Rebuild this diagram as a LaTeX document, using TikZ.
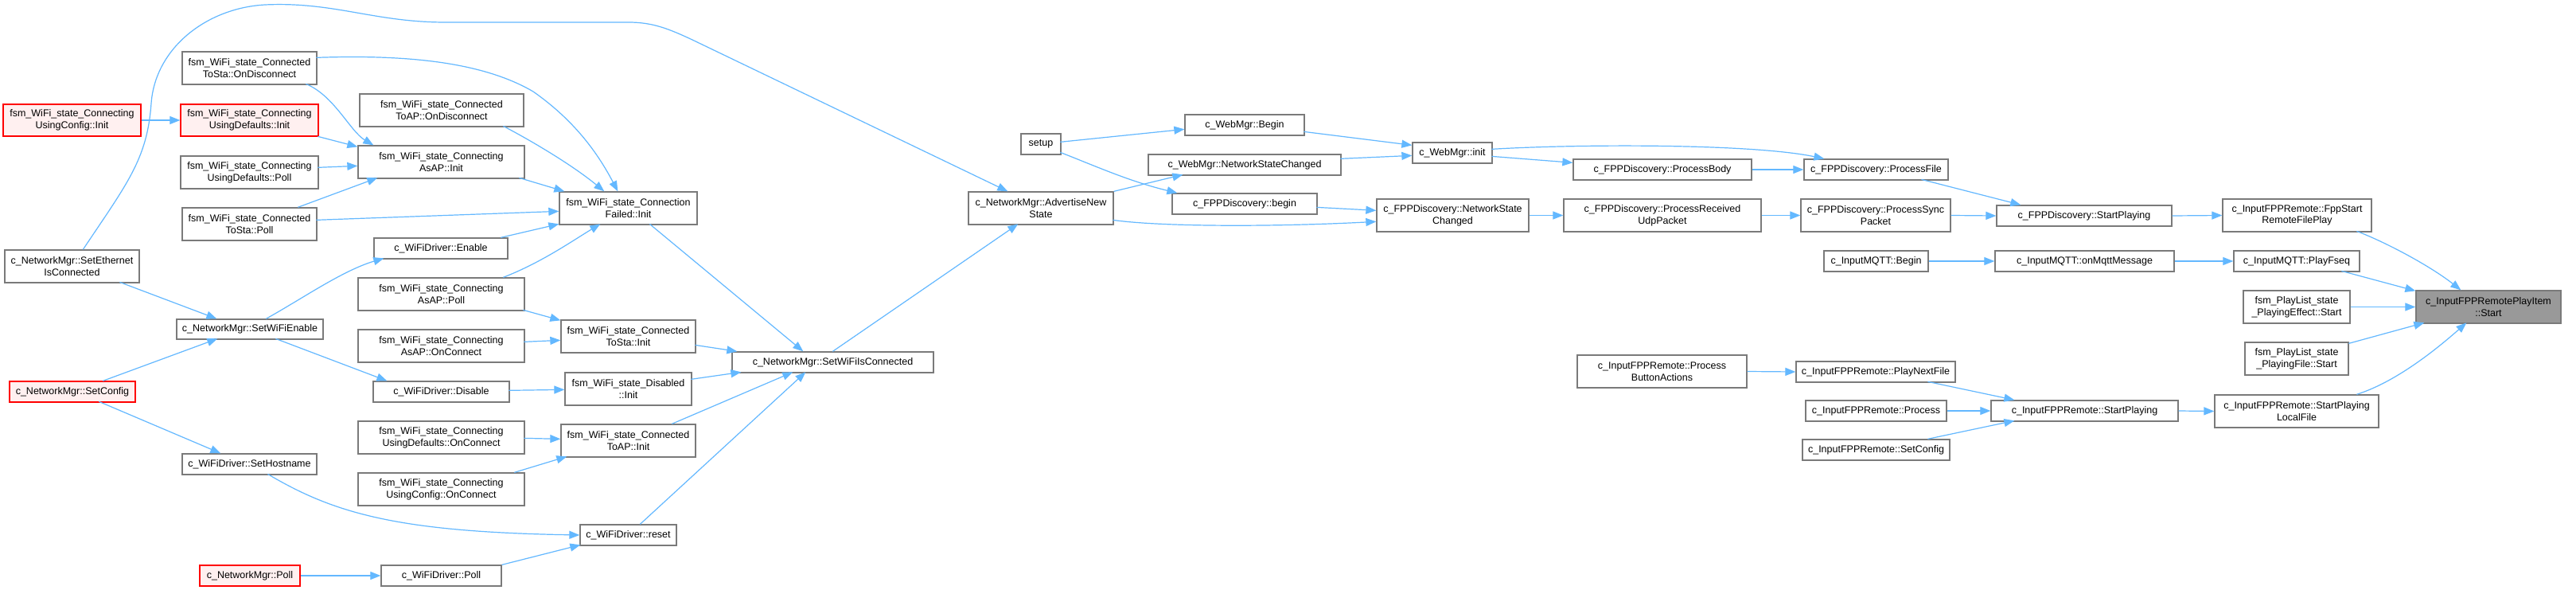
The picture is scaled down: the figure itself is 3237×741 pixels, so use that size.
\documentclass[tikz,border=0pt]{standalone}
\usepackage{fontspec}
\setmainfont{Liberation Sans}
\usetikzlibrary{arrows.meta}
\definecolor{edgeblue}{HTML}{63B8FF}
\definecolor{nodeborder}{HTML}{7A7A7A}
\definecolor{redfill}{HTML}{FFF0F0}
\definecolor{hlfill}{HTML}{999999}
\tikzset{
 box/.style={draw=nodeborder, fill=white, line width=1.3pt, inner sep=0pt, align=center, font=\fontsize{12.5}{14.7}\selectfont, text=black},
 redbox/.style={box, draw=red, fill=redfill},
 hlbox/.style={box, fill=hlfill},
 edge/.style={draw=edgeblue, line width=1.2pt, -{Triangle[length=13pt,width=10pt]}},
}
\newcommand\nbox[7]{\node[#1,minimum width={(#4-#2)*1pt},minimum height={(#5-#3)*1pt}] (#6) at ({(#2+#4)/2},{(#3+#5)/2}) {#7};}
\begin{document}
\begin{tikzpicture}[x=1pt,y=-1pt]
\fill[white] (0,0) rectangle (3237,741);
\useasboundingbox (0,0) rectangle (3237,741);
% column A
\nbox{redbox}{4}{131}{177}{171}{A1}{fsm\_WiFi\_state\_Connecting\\UsingConfig::Init}
\nbox{box}{6}{314}{175}{355}{A2}{c\_NetworkMgr::SetEthernet\\IsConnected}
\nbox{redbox}{12}{479}{170}{505}{A3}{c\_NetworkMgr::SetConfig}
% column B
\nbox{box}{229}{65}{398}{106}{B1}{fsm\_WiFi\_state\_Connected\\ToSta::OnDisconnect}
\nbox{redbox}{227}{131}{400}{171}{B2}{fsm\_WiFi\_state\_Connecting\\UsingDefaults::Init}
\nbox{box}{227}{196}{400}{237}{B3}{fsm\_WiFi\_state\_Connecting\\UsingDefaults::Poll}
\nbox{box}{229}{261}{398}{302}{B4}{fsm\_WiFi\_state\_Connected\\ToSta::Poll}
\nbox{box}{222}{401}{406}{426}{B5}{c\_NetworkMgr::SetWiFiEnable}
\nbox{box}{229}{570}{398}{596}{B6}{c\_WiFiDriver::SetHostname}
\nbox{redbox}{251}{710}{377}{736}{B7}{c\_NetworkMgr::Poll}
% column C
\nbox{box}{452}{118}{658}{159}{C1}{fsm\_WiFi\_state\_Connected\\ToAP::OnDisconnect}
\nbox{box}{450}{183}{659}{224}{C2}{fsm\_WiFi\_state\_Connecting\\AsAP::Init}
\nbox{box}{470}{299}{638}{325}{C3}{c\_WiFiDriver::Enable}
\nbox{box}{450}{349}{659}{390}{C4}{fsm\_WiFi\_state\_Connecting\\AsAP::Poll}
\nbox{box}{450}{414}{659}{455}{C5}{fsm\_WiFi\_state\_Connecting\\AsAP::OnConnect}
\nbox{box}{469}{479}{640}{505}{C6}{c\_WiFiDriver::Disable}
\nbox{box}{450}{529}{659}{570}{C7}{fsm\_WiFi\_state\_Connecting\\UsingDefaults::OnConnect}
\nbox{box}{450}{594}{659}{635}{C8}{fsm\_WiFi\_state\_Connecting\\UsingConfig::OnConnect}
\nbox{box}{479}{710}{630}{736}{C9}{c\_WiFiDriver::Poll}
% column D
\nbox{box}{703}{241}{876}{282}{D1}{fsm\_WiFi\_state\_Connection\\Failed::Init}
\nbox{box}{705}{402}{874}{443}{D2}{fsm\_WiFi\_state\_Connected\\ToSta::Init}
\nbox{box}{710}{468}{869}{509}{D3}{fsm\_WiFi\_state\_Disabled\\::Init}
\nbox{box}{705}{533}{874}{574}{D4}{fsm\_WiFi\_state\_Connected\\ToAP::Init}
\nbox{box}{729}{659}{850}{685}{D5}{c\_WiFiDriver::reset}
% E F G
\nbox{box}{920}{442}{1173}{468}{E1}{c\_NetworkMgr::SetWiFiIsConnected}
\nbox{box}{1217}{241}{1399}{282}{F1}{c\_NetworkMgr::AdvertiseNew\\State}
\nbox{box}{1283}{168}{1333}{194}{G1}{setup}
% H
\nbox{box}{1489}{144}{1639}{170}{H1}{c\_WebMgr::Begin}
\nbox{box}{1443}{194}{1685}{220}{H2}{c\_WebMgr::NetworkStateChanged}
\nbox{box}{1473}{243}{1655}{269}{H3}{c\_FPPDiscovery::begin}
% I
\nbox{box}{1775}{179}{1875}{205}{I1}{c\_WebMgr::init}
\nbox{box}{1730}{250}{1921}{291}{I2}{c\_FPPDiscovery::NetworkState\\Changed}
% J
\nbox{box}{1977}{200}{2201}{226}{J1}{c\_FPPDiscovery::ProcessBody}
\nbox{box}{1965}{250}{2213}{291}{J2}{c\_FPPDiscovery::ProcessReceived\\UdpPacket}
\nbox{box}{1982}{446}{2195}{487}{J3}{c\_InputFPPRemote::Process\\ButtonActions}
% K
\nbox{box}{2267}{200}{2448}{226}{K1}{c\_FPPDiscovery::ProcessFile}
\nbox{box}{2263}{250}{2451}{291}{K2}{c\_FPPDiscovery::ProcessSync\\Packet}
\nbox{box}{2292}{315}{2423}{341}{K3}{c\_InputMQTT::Begin}
\nbox{box}{2257}{454}{2457}{480}{K4}{c\_InputFPPRemote::PlayNextFile}
\nbox{box}{2269}{503}{2446}{529}{K5}{c\_InputFPPRemote::Process}
\nbox{box}{2265}{552}{2450}{578}{K6}{c\_InputFPPRemote::SetConfig}
% L
\nbox{box}{2509}{258}{2729}{284}{L1}{c\_FPPDiscovery::StartPlaying}
\nbox{box}{2507}{315}{2732}{341}{L2}{c\_InputMQTT::onMqttMessage}
\nbox{box}{2502}{503}{2737}{529}{L3}{c\_InputFPPRemote::StartPlaying}
% M
\nbox{box}{2793}{250}{2980}{291}{M1}{c\_InputFPPRemote::FppStart\\RemoteFilePlay}
\nbox{box}{2807}{315}{2965}{341}{M2}{c\_InputMQTT::PlayFseq}
\nbox{box}{2819}{365}{2953}{406}{M3}{fsm\_PlayList\_state\\\_PlayingEffect::Start}
\nbox{box}{2821}{430}{2951}{471}{M4}{fsm\_PlayList\_state\\\_PlayingFile::Start}
\nbox{box}{2783}{496}{2989}{537}{M5}{c\_InputFPPRemote::StartPlaying\\LocalFile}
% N
\nbox{hlbox}{3036}{365}{3218}{406}{N1}{c\_InputFPPRemotePlayItem\\::Start}
% edges
\draw[edge] (A1.east) -- (B2.west);
\draw[edge] ([shift={(156,41)}]B1.north west) .. controls (420,120) and (440,165) .. ([shift={(20,0)}]C2.north west);
\draw[edge] ([shift={(169,8)}]B1.north west) .. controls (520,68) and (610,80) .. (670,115) .. controls (720,150) and (750,190) .. ([shift={(74,0)}]D1.north west);
\draw[edge] ([shift={(173,41)}]B2.north west) -- ([shift={(0,2)}]C2.north west);
\draw[edge] ([shift={(173,15)}]B3.north west) -- ([shift={(0,26)}]C2.north west);
\draw[edge] ([shift={(146,0)}]B4.north west) -- ([shift={(25,41)}]C2.north west);
\draw[edge] ([shift={(169,16)}]B4.north west) -- ([shift={(0,25)}]D1.north west);
\draw[edge] ([shift={(99,0)}]A2.north west) .. controls (160,230) and (185,200) .. (190,130) .. controls (195,60) and (260,10) .. (333,6) .. controls (420,2) and (470,28) .. (560,28) -- (790,28) .. controls (820,28) and (840,36) .. (870,50) -- ([shift={(50,0)}]F1.north west);
\draw[edge] ([shift={(145,41)}]A2.north west) -- ([shift={(51,0)}]B5.north west);
\draw[edge] ([shift={(118,0)}]A3.north west) -- ([shift={(52,25)}]B5.north west);
\draw[edge] ([shift={(113,26)}]A3.north west) -- ([shift={(49,0)}]B6.north west);
\draw[edge] ([shift={(113,0)}]B5.north west) .. controls (380,375) and (430,340) .. ([shift={(13,26)}]C3.north west);
\draw[edge] ([shift={(125,25)}]B5.north west) -- ([shift={(18,0)}]C6.north west);
\draw[edge] ([shift={(108,26)}]B6.north west) .. controls (420,645) and (500,668) .. (D5.west);
\draw[edge] (B7.east) -- (C9.west);
\draw[edge] (C9.north east) -- ([shift={(1,26)}]D5.north west);
\draw[edge] ([shift={(181,41)}]C1.north west) .. controls (670,178) and (720,208) .. ([shift={(57,0)}]D1.north west);
\draw[edge] ([shift={(203,41)}]C2.north west) -- ([shift={(7,0)}]D1.north west);
\draw[edge] ([shift={(160,0)}]C3.north west) -- ([shift={(0,41)}]D1.north west);
\draw[edge] ([shift={(183,0)}]C4.north west) .. controls (680,330) and (720,302) .. ([shift={(52,41)}]D1.north west);
\draw[edge] ([shift={(208,41)}]C4.north west) -- ([shift={(0,1)}]D2.north west);
\draw[edge] ([shift={(209,16)}]C5.north west) -- ([shift={(0,26)}]D2.north west);
\draw[edge] ([shift={(171,12)}]C6.north west) -- ([shift={(0,22)}]D3.north west);
\draw[edge] ([shift={(209,22)}]C7.north west) -- ([shift={(0,19)}]D4.north west);
\draw[edge] ([shift={(197,0)}]C8.north west) -- ([shift={(8,41)}]D4.north west);
\draw[edge] ([shift={(114,41)}]D1.north west) -- ([shift={(90,0)}]E1.north west);
\draw[edge] ([shift={(169,32)}]D2.north west) -- ([shift={(7,0)}]E1.north west);
\draw[edge] ([shift={(159,9)}]D3.north west) -- ([shift={(12,26)}]E1.north west);
\draw[edge] ([shift={(140,0)}]D4.north west) -- ([shift={(77,26)}]E1.north west);
\draw[edge] ([shift={(76,0)}]D5.north west) -- ([shift={(93,26)}]E1.north west);
\draw[edge] ([shift={(127,0)}]E1.north west) -- ([shift={(63,41)}]F1.north west);
\draw[edge] ([shift={(50,11)}]G1.north west) -- ([shift={(0,19)}]H1.north west);
\draw[edge] ([shift={(50,24)}]G1.north west) .. controls (1380,210) and (1420,228) .. ([shift={(7,0)}]H3.north west);
\draw[edge] (F1.north east) -- ([shift={(44,26)}]H2.north west);
\draw[edge] ([shift={(182,36)}]F1.north west) .. controls (1460,285) and (1600,285) .. ([shift={(0,29)}]I2.north west);
\draw[edge] ([shift={(150,22)}]H1.north west) -- ([shift={(0,4)}]I1.north west);
\draw[edge] ([shift={(242,6)}]H2.north west) -- ([shift={(0,17)}]I1.north west);
\draw[edge] ([shift={(182,18)}]H3.north west) -- ([shift={(0,15)}]I2.north west);
\draw[edge] (I2.east) -- (J2.west);
\draw[edge] ([shift={(100,18)}]I1.north west) -- ([shift={(0,5)}]J1.north west);
\draw[edge] ([shift={(100,9)}]I1.north west) .. controls (1980,181) and (2200,180) .. ([shift={(26,0)}]K1.north west);
\draw[edge] (J1.east) -- (K1.west);
\draw[edge] (J2.east) -- (K2.west);
\draw[edge] ([shift={(148,26)}]K1.north west) -- ([shift={(31,0)}]L1.north west);
\draw[edge] (K2.east) -- (L1.west);
\draw[edge] (K3.east) -- (L2.west);
\draw[edge] (L1.east) -- (M1.west);
\draw[edge] (L2.east) -- (M2.west);
\draw[edge] ([shift={(169,41)}]M1.north west) .. controls (3000,305) and (3055,335) .. ([shift={(57,0)}]N1.north west);
\draw[edge] ([shift={(136,26)}]M2.north west) -- ([shift={(0,1)}]N1.north west);
\draw[edge] (M3.east) -- (N1.west);
\draw[edge] ([shift={(131,2)}]M4.north west) -- ([shift={(11,41)}]N1.north west);
\draw[edge] ([shift={(179,0)}]M5.north west) .. controls (3010,480) and (3060,440) .. ([shift={(64,41)}]N1.north west);
\draw[edge] (J3.east) -- (K4.west);
\draw[edge] ([shift={(166,26)}]K4.north west) -- ([shift={(30,0)}]L3.north west);
\draw[edge] (K5.east) -- (L3.west);
\draw[edge] ([shift={(158,0)}]K6.north west) -- ([shift={(30,26)}]L3.north west);
\draw[edge] (L3.east) -- (M5.west);
\end{tikzpicture}
\end{document}
